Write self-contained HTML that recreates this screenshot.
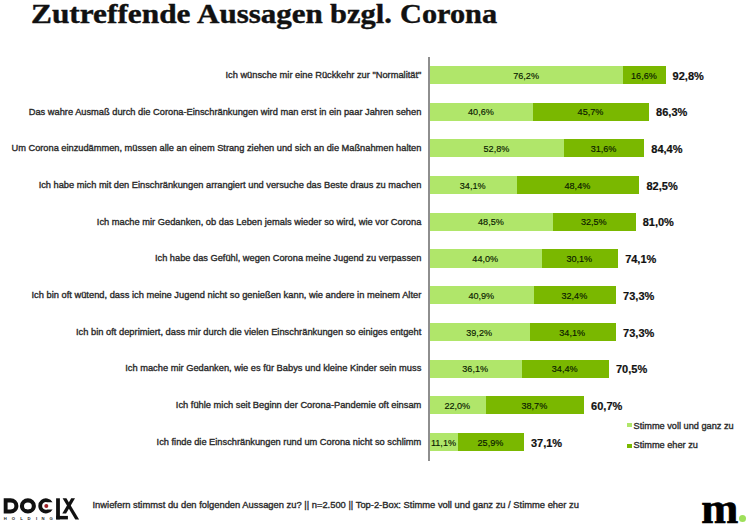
<!DOCTYPE html>
<html><head><meta charset="utf-8"><style>
html,body{margin:0;padding:0;background:#fff;width:748px;height:524px;overflow:hidden;position:relative}
body{font-family:"Liberation Sans",sans-serif}
.title{position:absolute;-webkit-text-stroke:0.4px #111;left:30.7px;top:-1.2px;font:bold 27px/30px "Liberation Serif",serif;color:#111;white-space:nowrap;transform-origin:0 0;transform:scaleX(1.145)}
.axis{position:absolute;left:428px;top:57px;width:2px;height:404px;background:#8e8e8e}
.lab{position:absolute;-webkit-text-stroke:0.35px #2a2a2a;right:326.7px;font-size:9.28px;line-height:12px;white-space:nowrap;color:#2a2a2a}
.bar{position:absolute;height:18.2px}
.in{position:absolute;width:80px;-webkit-text-stroke:0.15px #0a1a00;text-align:center;font-size:9.1px;line-height:12px;color:#0a1a00}
.tot{position:absolute;-webkit-text-stroke:0.2px #111;font-weight:bold;font-size:11px;line-height:14px;color:#111;white-space:nowrap}
.leg{position:absolute;-webkit-text-stroke:0.35px #2a2a2a;left:633.5px;font-size:9.2px;line-height:12px;color:#2a2a2a;white-space:nowrap}
.sq{position:absolute;left:627px;width:5px;height:4px}
.foot{position:absolute;-webkit-text-stroke:0.35px #2a2a2a;left:92.5px;top:499px;font-size:9.37px;line-height:12px;color:#2a2a2a;white-space:nowrap}
.m{position:absolute;-webkit-text-stroke:0.7px #000;left:701.2px;top:483.0px;font:bold 44.5px/50px "Liberation Serif",serif;color:#000;transform-origin:0 0;transform:scaleX(1.0)}
.dot{position:absolute;left:739px;top:515px;width:7px;height:7px;border-radius:50%;background:#9ee05a}
</style></head><body>
<div class="title" style="left:31.34px;transform:scaleX(1.1603)">Zutreffende</div><div class="title" style="left:197.00px;transform:scaleX(1.1486)">Aussagen</div><div class="title" style="left:330.00px;transform:scaleX(1.1278)">bzgl.</div><div class="title" style="left:399.78px;transform:scaleX(1.1224)">Corona</div>
<div class="axis"></div>
<div class="lab" style="top:68.80px;font-size:9.299px">Ich wünsche mir eine Rückkehr zur "Normalität"</div>
<div class="bar" style="top:65.90px;left:430px;width:193.47px;background:#b0e66a"></div>
<div class="bar" style="top:65.90px;left:623.47px;width:42.15px;background:#7ab800"></div>
<div class="in" style="top:69.60px;left:486.14px">76,2%</div>
<div class="in" style="top:69.60px;left:603.95px">16,6%</div>
<div class="tot" style="top:68.60px;left:672.62px">92,8%</div>
<div class="lab" style="top:105.50px;font-size:9.294px">Das wahre Ausmaß durch die Corona-Einschränkungen wird man erst in ein paar Jahren sehen</div>
<div class="bar" style="top:102.60px;left:430px;width:103.08px;background:#b0e66a"></div>
<div class="bar" style="top:102.60px;left:533.08px;width:116.03px;background:#7ab800"></div>
<div class="in" style="top:106.30px;left:440.94px">40,6%</div>
<div class="in" style="top:106.30px;left:550.50px">45,7%</div>
<div class="tot" style="top:105.30px;left:656.12px">86,3%</div>
<div class="lab" style="top:142.20px;font-size:9.253px">Um Corona einzudämmen, müssen alle an einem Strang ziehen und sich an die Maßnahmen halten</div>
<div class="bar" style="top:139.30px;left:430px;width:134.06px;background:#b0e66a"></div>
<div class="bar" style="top:139.30px;left:564.06px;width:80.23px;background:#7ab800"></div>
<div class="in" style="top:143.00px;left:456.43px">52,8%</div>
<div class="in" style="top:143.00px;left:563.58px">31,6%</div>
<div class="tot" style="top:142.00px;left:651.29px">84,4%</div>
<div class="lab" style="top:178.90px;font-size:9.285px">Ich habe mich mit den Einschränkungen arrangiert und versuche das Beste draus zu machen</div>
<div class="bar" style="top:176.00px;left:430px;width:86.58px;background:#b0e66a"></div>
<div class="bar" style="top:176.00px;left:516.58px;width:122.89px;background:#7ab800"></div>
<div class="in" style="top:179.70px;left:432.69px">34,1%</div>
<div class="in" style="top:179.70px;left:537.42px">48,4%</div>
<div class="tot" style="top:178.70px;left:646.47px">82,5%</div>
<div class="lab" style="top:215.60px;font-size:9.303px">Ich mache mir Gedanken, ob das Leben jemals wieder so wird, wie vor Corona</div>
<div class="bar" style="top:212.70px;left:430px;width:123.14px;background:#b0e66a"></div>
<div class="bar" style="top:212.70px;left:553.14px;width:82.52px;background:#7ab800"></div>
<div class="in" style="top:216.40px;left:450.97px">48,5%</div>
<div class="in" style="top:216.40px;left:553.80px">32,5%</div>
<div class="tot" style="top:215.40px;left:642.66px">81,0%</div>
<div class="lab" style="top:252.30px;font-size:9.266px">Ich habe das Gefühl, wegen Corona meine Jugend zu verpassen</div>
<div class="bar" style="top:249.40px;left:430px;width:111.72px;background:#b0e66a"></div>
<div class="bar" style="top:249.40px;left:541.72px;width:76.42px;background:#7ab800"></div>
<div class="in" style="top:253.10px;left:445.26px">44,0%</div>
<div class="in" style="top:253.10px;left:539.33px">30,1%</div>
<div class="tot" style="top:252.10px;left:625.14px">74,1%</div>
<div class="lab" style="top:289.00px;font-size:9.323px">Ich bin oft wütend, dass ich meine Jugend nicht so genießen kann, wie andere in meinem Alter</div>
<div class="bar" style="top:286.10px;left:430px;width:103.85px;background:#b0e66a"></div>
<div class="bar" style="top:286.10px;left:533.85px;width:82.26px;background:#7ab800"></div>
<div class="in" style="top:289.80px;left:441.32px">40,9%</div>
<div class="in" style="top:289.80px;left:534.38px">32,4%</div>
<div class="tot" style="top:288.80px;left:623.11px">73,3%</div>
<div class="lab" style="top:325.70px;font-size:9.323px">Ich bin oft deprimiert, dass mir durch die vielen Einschränkungen so einiges entgeht</div>
<div class="bar" style="top:322.80px;left:430px;width:99.53px;background:#b0e66a"></div>
<div class="bar" style="top:322.80px;left:529.53px;width:86.58px;background:#7ab800"></div>
<div class="in" style="top:326.50px;left:439.16px">39,2%</div>
<div class="in" style="top:326.50px;left:532.22px">34,1%</div>
<div class="tot" style="top:325.50px;left:623.11px">73,3%</div>
<div class="lab" style="top:362.40px;font-size:9.305px">Ich mache mir Gedanken, wie es für Babys und kleine Kinder sein muss</div>
<div class="bar" style="top:359.50px;left:430px;width:91.66px;background:#b0e66a"></div>
<div class="bar" style="top:359.50px;left:521.66px;width:87.34px;background:#7ab800"></div>
<div class="in" style="top:363.20px;left:435.23px">36,1%</div>
<div class="in" style="top:363.20px;left:524.73px">34,4%</div>
<div class="tot" style="top:362.20px;left:616.00px">70,5%</div>
<div class="lab" style="top:399.10px;font-size:9.303px">Ich fühle mich seit Beginn der Corona-Pandemie oft einsam</div>
<div class="bar" style="top:396.20px;left:430px;width:55.86px;background:#b0e66a"></div>
<div class="bar" style="top:396.20px;left:485.86px;width:98.26px;background:#7ab800"></div>
<div class="in" style="top:399.90px;left:417.33px">22,0%</div>
<div class="in" style="top:399.90px;left:494.39px">38,7%</div>
<div class="tot" style="top:398.90px;left:591.12px">60,7%</div>
<div class="lab" style="top:435.80px;font-size:9.28px">Ich finde die Einschränkungen rund um Corona nicht so schlimm</div>
<div class="bar" style="top:432.90px;left:430px;width:28.18px;background:#b0e66a"></div>
<div class="bar" style="top:432.90px;left:458.18px;width:65.76px;background:#7ab800"></div>
<div class="in" style="top:436.60px;left:403.49px">11,1%</div>
<div class="in" style="top:436.60px;left:450.46px">25,9%</div>
<div class="tot" style="top:435.60px;left:530.94px">37,1%</div>
<div class="sq" style="top:423px;background:#b0e66a"></div>
<div class="leg" style="top:419.5px">Stimme voll und ganz zu</div>
<div class="sq" style="top:444px;background:#7ab800"></div>
<div class="leg" style="top:439.4px">Stimme eher zu</div>
<div class="foot">Inwiefern stimmst du den folgenden Aussagen zu? || n=2.500 || Top-2-Box: Stimme voll und ganz zu / Stimme eher zu</div>
<svg style="position:absolute;left:0;top:490px" width="90" height="34" viewBox="0 490 90 34">
<path fill="#111" fill-rule="evenodd" d="M3.7,498.3H10.6A7.8,7.6 0 0 1 10.6,513.5H3.7Z M7.6,502.6H10.6A3.8,3.4 0 0 1 10.6,509.4H7.6Z"/>
<ellipse cx="27.9" cy="505.9" rx="5.95" ry="5.55" fill="none" stroke="#111" stroke-width="4.1"/>
<path fill="#111" d="M52.59,502.3A7.6,7.6 0 1 0 52.59,509.5H47.12A3.8,3.8 0 1 1 47.12,502.3Z"/>
<circle cx="46.3" cy="506" r="2.0" fill="#9e2026"/>
<rect x="56.1" y="498.3" width="3.8" height="21.1" fill="#111"/>
<rect x="56.1" y="515.9" width="11.8" height="3.5" fill="#111"/>
<polygon fill="#111" points="62.6,498.3 66.4,498.3 79.1,519.4 75.3,519.4"/>
<polygon fill="#111" points="71.2,498.3 75.0,498.3 66.1,513.5 62.3,513.5"/>
<g font-family="Liberation Sans" font-weight="bold" font-size="4.2" fill="#222">
<text x="3.7" y="519.6">H</text><text x="11.7" y="519.6">O</text><text x="20.3" y="519.6">L</text><text x="27.5" y="519.6">D</text><text x="36.1" y="519.6">I</text><text x="41.6" y="519.6">N</text><text x="49.4" y="519.6">G</text>
</g>
</svg>

<div class="m">m</div>
<div class="dot"></div>
</body></html>
